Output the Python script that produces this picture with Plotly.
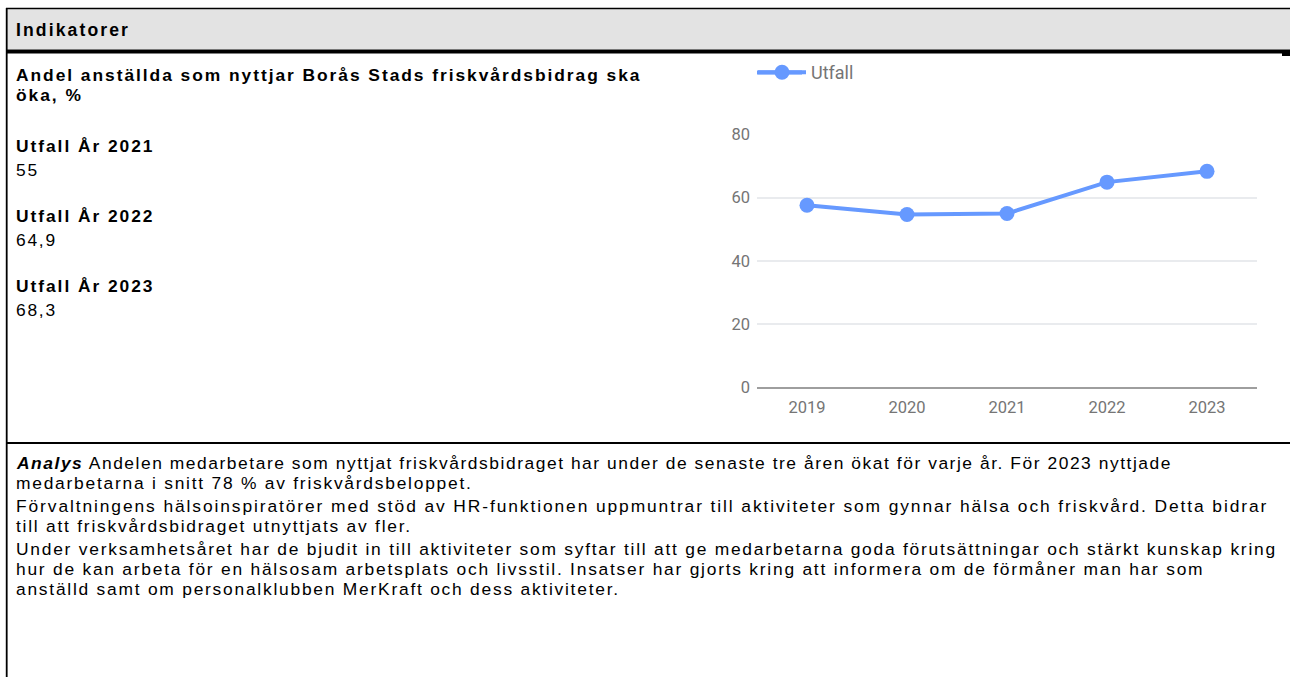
import plotly.graph_objects as go

W, H = 1290, 677

years = ["2019", "2020", "2021", "2022", "2023"]
utfall = [57.6, 54.7, 55.0, 64.9, 68.3]
y_ticks = [0, 20, 40, 60, 80]

header = "Indikatorer"
title_lines = ["Andel anställda som nyttjar Borås Stads friskvårdsbidrag ska", "öka, %"]
results = [("Utfall År 2021", "55"), ("Utfall År 2022", "64,9"), ("Utfall År 2023", "68,3")]
analys_lines = [
    "<b><i>Analys</i></b> Andelen medarbetare som nyttjat friskvårdsbidraget har under de senaste tre åren ökat för varje år. För 2023 nyttjade",
    "medarbetarna i snitt 78 % av friskvårdsbeloppet.",
    "Förvaltningens hälsoinspiratörer med stöd av HR-funktionen uppmuntrar till aktiviteter som gynnar hälsa och friskvård. Detta bidrar",
    "till att friskvårdsbidraget utnyttjats av fler.",
    "Under verksamhetsåret har de bjudit in till aktiviteter som syftar till att ge medarbetarna goda förutsättningar och stärkt kunskap kring",
    "hur de kan arbeta för en hälsosam arbetsplats och livsstil. Insatser har gjorts kring att informera om de förmåner man har som",
    "anställd samt om personalklubben MerKraft och dess aktiviteter.",
]
analys_y = [463, 483, 506, 526, 549, 569, 589]
analys_ls = [1.55, 1.76, 1.9, 1.76, 1.76, 1.76, 1.76]


def px(x):
    return x / W


def py(y):
    return 1 - y / H


DOC_FONT = "Liberation Sans, Arial, sans-serif"
CHART_FONT = "Roboto, sans-serif"
LINE_COLOR = "#6699ff"
TICK_COLOR = "#757575"
TEXT_SIZE = 17.4
REG_LS = 1.76
BOLD_LS = 1.95

fig = go.Figure()
fig.add_trace(go.Scatter(
    x=years, y=utfall, mode="lines+markers", name="Utfall",
    line=dict(color=LINE_COLOR, width=4),
    marker=dict(color=LINE_COLOR, size=15),
    cliponaxis=False,
))

shapes = []
shapes.append(dict(type="rect", xref="paper", yref="paper", x0=px(7), x1=px(1290), y0=py(49.5), y1=py(9.2),
                   fillcolor="#e3e3e3", line=dict(width=0), layer="below"))
shapes.append(dict(type="line", xref="paper", yref="paper", x0=px(6), x1=px(1290), y0=py(8.5), y1=py(8.5),
                   line=dict(color="black", width=1.5)))
shapes.append(dict(type="line", xref="paper", yref="paper", x0=px(6), x1=px(1290), y0=py(51.5), y1=py(51.5),
                   line=dict(color="black", width=4)))
shapes.append(dict(type="line", xref="paper", yref="paper", x0=px(6.7), x1=px(6.7), y0=py(8), y1=py(677),
                   line=dict(color="black", width=1.8)))
shapes.append(dict(type="line", xref="paper", yref="paper", x0=px(6), x1=px(1290), y0=py(443), y1=py(443),
                   line=dict(color="black", width=2)))
shapes.append(dict(type="line", xref="paper", yref="paper", x0=px(1286), x1=px(1286), y0=py(50), y1=py(56),
                   line=dict(color="black", width=8)))
# longer legend key line (Google-chart style legend swatch)
shapes.append(dict(type="line", xref="paper", yref="paper", x0=px(757), x1=px(802), y0=py(72.5), y1=py(72.5),
                   line=dict(color=LINE_COLOR, width=4)))

annotations = []


def add_text(x, y, text, size=TEXT_SIZE, bold=False, ls=REG_LS, font=DOC_FONT, color="black"):
    body = f"<b>{text}</b>" if bold else text
    annotations.append(dict(
        xref="paper", yref="paper", x=px(x), y=py(y), xanchor="left", yanchor="middle",
        text=f'<span style="letter-spacing:{ls}px">{body}</span>', showarrow=False,
        font=dict(family=font, size=size, color=color),
    ))


add_text(14, 30, header, size=17.6, bold=True, ls=2.1)
add_text(14, 75, title_lines[0], bold=True, ls=BOLD_LS)
add_text(14, 95, title_lines[1], bold=True, ls=BOLD_LS)
ry = [146, 216, 286]
for (lab, val), y in zip(results, ry):
    add_text(14, y, lab, bold=True, ls=BOLD_LS)
    add_text(14, y + 24, val)
for line, y, ls in zip(analys_lines, analys_y, analys_ls):
    add_text(14, y, line, ls=ls)

x_left, x_right = 757, 1257
y0_px, y80_px = 387.7, 134.3

fig.update_layout(
    width=W, height=H, autosize=False,
    margin=dict(l=0, r=0, t=0, b=0, pad=0, autoexpand=False),
    paper_bgcolor="white", plot_bgcolor="white",
    shapes=shapes, annotations=annotations,
    showlegend=True,
    legend=dict(orientation="h", x=px(753), y=py(72.5), xanchor="left", yanchor="middle",
                font=dict(family=CHART_FONT, size=18, color=TICK_COLOR),
                bgcolor="rgba(0,0,0,0)", itemwidth=48),
    xaxis=dict(domain=[px(x_left), px(x_right)], type="category", range=[-0.5, 4.5], automargin=False,
               showgrid=False, zeroline=False, showline=False, ticks="", ticklabelstandoff=8,
               tickfont=dict(family=CHART_FONT, size=16.5, color=TICK_COLOR)),
    yaxis=dict(domain=[py(y0_px), py(y80_px)], range=[0, 80], tickvals=y_ticks, automargin=False,
               showgrid=True, gridcolor="#e9ebee", gridwidth=1.5,
               zeroline=True, zerolinecolor="#9e9e9e", zerolinewidth=2,
               showline=False, ticks="", ticklabelstandoff=6,
               tickfont=dict(family=CHART_FONT, size=16.5, color=TICK_COLOR)),
)

post = (
    "var gd=document.getElementById('{plot_id}');"
    "document.documentElement.style.margin='0';document.body.style.margin='0';"
    "document.documentElement.style.overflow='hidden';document.body.style.overflow='hidden';"
    "gd.style.position='fixed';gd.style.left='0px';gd.style.top='0px';"
)

fig.write_html(
    "out.html",
    config={"displayModeBar": False, "responsive": False},
    post_script=post,
)
